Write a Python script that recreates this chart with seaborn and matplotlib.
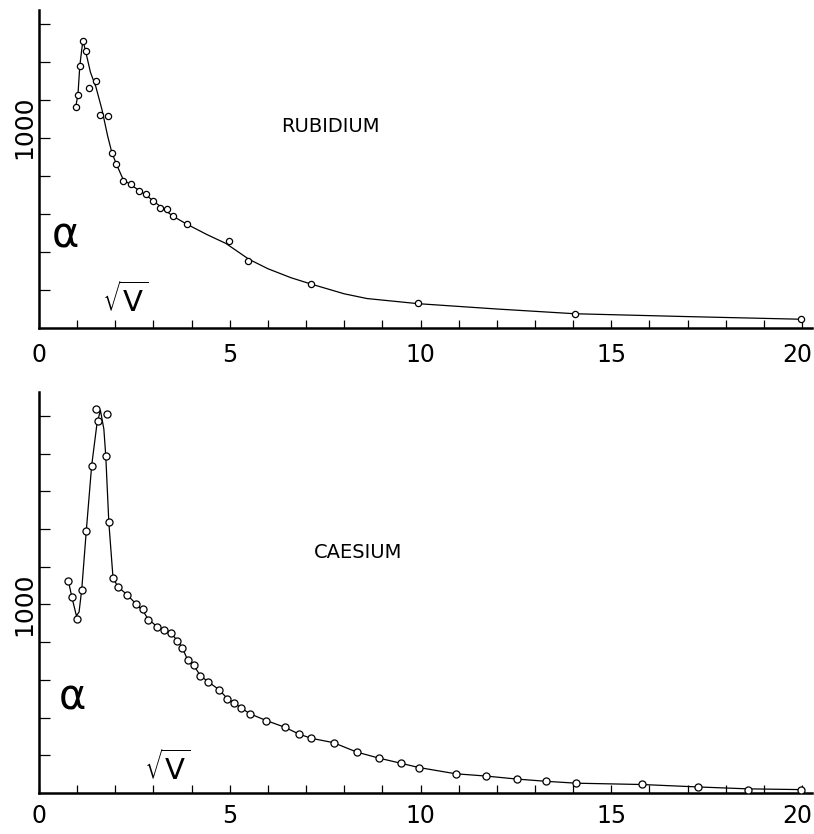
import matplotlib
matplotlib.use('Agg')
import matplotlib.pyplot as plt
import matplotlib.transforms as mtransforms
import seaborn as sns

# Rubidium: measured points (sqrt V, alpha)
rb_x = [0.96, 1.02, 1.07, 1.15, 1.22, 1.32, 1.49, 1.59, 1.81, 1.91, 2.03, 2.21,
        2.42, 2.61, 2.80, 2.99, 3.18, 3.36, 3.50, 3.87, 4.99, 5.49, 7.14, 9.94,
        14.05, 19.97]
rb_y = [1163, 1226, 1381, 1509, 1458, 1261, 1300, 1119, 1117, 923, 862, 772,
        758, 721, 703, 668, 633, 628, 588, 547, 456, 351, 232, 130,
        75, 46]
# Rubidium: hand-drawn smooth curve
rb_curve_x = [0.96, 1.02, 1.07, 1.15, 1.22, 1.35, 1.49, 1.65, 1.80, 1.91, 2.03,
              2.21, 2.42, 2.80, 3.18, 3.50, 3.87, 4.40, 4.90, 5.50, 6.00, 6.60,
              7.12, 8.00, 8.60, 9.94, 12.0, 14.05, 17.0, 20.0]
rb_curve_y = [1163, 1226, 1381, 1515, 1458, 1345, 1270, 1150, 1010, 923, 862,
              780, 752, 700, 640, 590, 547, 492, 445, 362, 312, 265,
              232, 180, 155, 128, 100, 75, 60, 46]

# Caesium: measured points
cs_x = [0.77, 0.86, 1.00, 1.12, 1.24, 1.38, 1.49, 1.55, 1.77, 1.75, 1.83, 1.94,
        2.07, 2.31, 2.54, 2.73, 2.85, 3.10, 3.27, 3.47, 3.63, 3.76, 3.90, 4.05,
        4.23, 4.44, 4.72, 4.94, 5.12, 5.29, 5.52, 5.96, 6.44, 6.82, 7.14, 7.72,
        8.33, 8.91, 9.48, 9.96, 10.92, 11.71, 12.52, 13.29, 14.08, 15.81, 17.28,
        18.58, 19.97]
cs_y = [1125, 1040, 921, 1079, 1392, 1736, 2037, 1972, 2012, 1788, 1436, 1141,
        1093, 1052, 1003, 978, 919, 881, 865, 847, 808, 768, 704, 679,
        622, 589, 548, 500, 476, 453, 421, 384, 349, 312, 290, 267,
        217, 185, 158, 135, 102, 92, 74, 62, 51, 48, 30,
        18, 18]
# Caesium: hand-drawn smooth curve
cs_curve_x = [0.77, 0.86, 0.98, 1.05, 1.12, 1.24, 1.38, 1.52, 1.61, 1.70, 1.75,
              1.83, 1.94, 2.07, 2.31, 2.54, 2.73, 2.85, 3.10, 3.27, 3.47, 3.63,
              3.76, 3.90, 4.05, 4.23, 4.44, 4.72, 4.94, 5.12, 5.29, 5.52, 5.96,
              6.44, 6.82, 7.14, 7.72, 8.33, 8.91, 9.48, 9.96, 10.92, 11.71,
              12.52, 13.29, 14.08, 15.81, 17.28, 18.58, 19.97]
cs_curve_y = [1125, 1040, 940, 960, 1079, 1392, 1736, 1960, 2030, 1930, 1788,
              1436, 1141, 1093, 1052, 1003, 965, 925, 881, 865, 845, 808,
              768, 704, 679, 622, 589, 548, 500, 476, 453, 421, 384,
              349, 312, 290, 267, 217, 185, 158, 135, 102, 90,
              74, 62, 52, 45, 32, 22, 18]

x_ticks = [0, 5, 10, 15, 20]
y_label_text = '1000'

sns.set_style('ticks', {'axes.edgecolor': 'black', 'text.color': 'black',
                        'xtick.color': 'black', 'ytick.color': 'black'})
plt.rcParams['font.family'] = ['DejaVu Sans']

W, H = 814, 834
fig = plt.figure(figsize=(W / 100, H / 100), dpi=100)


def draw_panel(ax, px, py, cx, cy, name, name_pos, ymax, mk, lab_y, pad):
    sns.lineplot(x=cx, y=cy, ax=ax, color='black', linewidth=0.9, sort=False,
                 estimator=None)
    sns.scatterplot(x=px, y=py, ax=ax, marker='o', s=mk, facecolor='white',
                    edgecolor='black', linewidth=0.9, zorder=3)
    ax.set_xlim(0, 20.26)
    ax.set_ylim(0, ymax)
    sns.despine(ax=ax)
    ax.spines['left'].set_linewidth(1.8)
    ax.spines['bottom'].set_linewidth(1.8)
    ax.set_xticks(range(0, 21))
    ax.set_xticklabels([str(t) if t in x_ticks else '' for t in range(0, 21)])
    ax.tick_params(axis='x', direction='in', length=6, width=0.9,
                   labelsize=17, pad=pad, colors='black')
    # pull the last label in so it stays inside the figure, as in the original
    last = ax.get_xticklabels()[20]
    last.set_transform(last.get_transform() +
                       mtransforms.ScaledTranslation(-5 / 100, 0, fig.dpi_scale_trans))
    ax.set_yticks(range(200, int(ymax), 200))
    ax.set_yticklabels([])
    ax.tick_params(axis='y', direction='in', length=8, width=0.9, colors='black')
    trans = mtransforms.blended_transform_factory(ax.transAxes, ax.transData)
    ax.text(-0.019, lab_y, y_label_text, rotation=90, ha='center',
            va='center', fontsize=18, color='black', transform=trans)
    ax.text(name_pos[0], name_pos[1], name, ha='center', va='center',
            fontsize=14, color='black', transform=ax.transAxes)
    ax.set_xlabel('')
    ax.set_ylabel('')


ax1 = fig.add_axes([39 / W, 1 - 328 / H, (812 - 39) / W, (328 - 10) / H])
draw_panel(ax1, rb_x, rb_y, rb_curve_x, rb_curve_y, 'RUBIDIUM',
           ((330 - 39) / 773, (328 - 127) / 318), 1674, 20, 1058, 11)
ax1.text((65 - 39) / 773, (328 - 236) / 318, 'α', ha='center', va='center',
         fontsize=30, color='black', transform=ax1.transAxes)
ax1.text((125 - 39) / 773, (328 - 300) / 318, r'$\sqrt{\mathrm{V}}$',
         ha='center', va='center', fontsize=21, color='black',
         transform=ax1.transAxes)

ax2 = fig.add_axes([39 / W, 1 - 793 / H, (812 - 39) / W, (793 - 392) / H])
draw_panel(ax2, cs_x, cs_y, cs_curve_x, cs_curve_y, 'CAESIUM',
           ((358 - 39) / 773, (793 - 552) / 401), 2127, 26, 1000, 8)
ax2.text((72 - 39) / 773, (793 - 697) / 401, 'α', ha='center', va='center',
         fontsize=30, color='black', transform=ax2.transAxes)
ax2.text((167 - 39) / 773, (793 - 768) / 401, r'$\sqrt{\mathrm{V}}$',
         ha='center', va='center', fontsize=21, color='black',
         transform=ax2.transAxes)

fig.savefig('out.png', dpi=100, facecolor='white')
